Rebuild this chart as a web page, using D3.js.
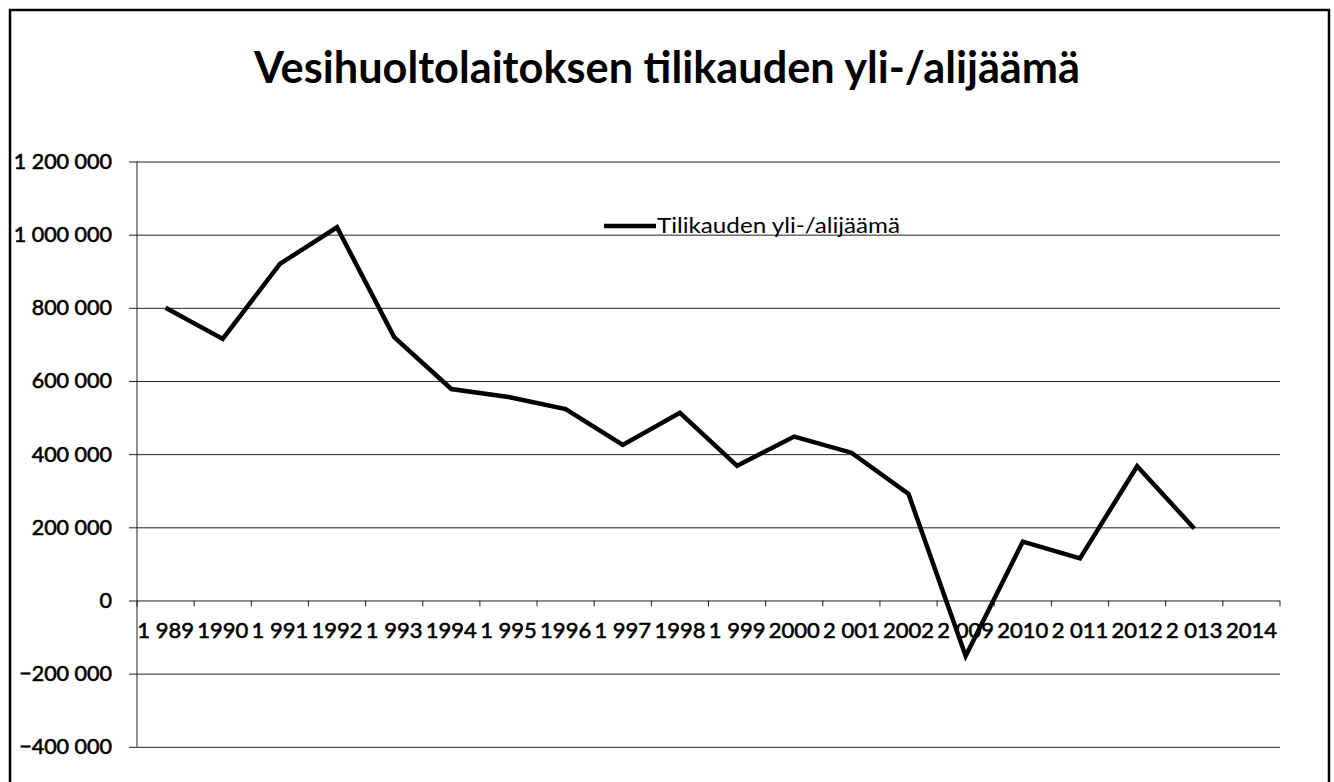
<!DOCTYPE html>
<html>
<head>
<meta charset="utf-8">
<script src="https://cdn.jsdelivr.net/npm/d3@7"></script>
<style>
	body { margin: 0; background: #fff; }
	svg { display: block; }
	text { font-family: Lato, "Open Sans", sans-serif; fill: #000; }
	.heavy { stroke: #000; stroke-width: 0.6px; }
</style>
</head>
<body>
<div id="chart"></div>
<script>
//Chart data
var chartTitle = "Vesihuoltolaitoksen tilikauden yli-/alijäämä";
var seriesName = "Tilikauden yli-/alijäämä";
var yearLabels = ["1 989", "1990", "1 991", "1992", "1 993", "1994", "1 995", "1996", "1 997", "1998",
	"1 999", "2000", "2 001", "2002", "2 009", "2010", "2 011", "2012", "2 013", "2014"];
var surplusValues = [800000, 715000, 920000, 1020000, 720000, 578000, 556000, 523000, 425000, 513000,
	368000, 448000, 404000, 291000, -152000, 161000, 115000, 367000, 197000, null];
var yTicks = [-400000, -200000, 0, 200000, 400000, 600000, 800000, 1000000, 1200000];

var width = 1334, height = 782;

//Plot area
var plot = {left: 137, right: 1280, top: 161.5, bottom: 746.8};

var svg = d3.select("#chart")
	.append("svg")
	.attr("width", width)
	.attr("height", height);

//Outer frame
svg.append("rect")
	.attr("x", 10)
	.attr("y", 10)
	.attr("width", 1319)
	.attr("height", 800)
	.attr("fill", "none")
	.attr("stroke", "#000")
	.attr("stroke-width", 2.5);

//Title
svg.append("text")
	.attr("x", 667)
	.attr("y", 83)
	.attr("text-anchor", "middle")
	.attr("textLength", 826)
	.attr("lengthAdjust", "spacingAndGlyphs")
	.style("font-size", "43px")
	.style("font-weight", "bold")
	.text(chartTitle);

//Scales
var x = d3.scaleBand()
	.domain(yearLabels)
	.range([plot.left, plot.right])
	.paddingInner(0)
	.paddingOuter(0);

var y = d3.scaleLinear()
	.domain([yTicks[0], yTicks[yTicks.length - 1]])
	.range([plot.bottom, plot.top]);

var fmt = function(v){ return d3.format(",")(v).replace(/,/g, " "); };

//Horizontal gridlines and y labels
var yAxis = svg.append("g")
	.attr("class", "yAxis")
	.attr("transform", "translate(" + plot.left + ",0)")
	.call(d3.axisLeft(y)
		.tickValues(yTicks)
		.tickSize(-(plot.right - plot.left))
		.tickPadding(25)
		.tickFormat(fmt));
yAxis.select(".domain").remove();
yAxis.selectAll(".tick line")
	.attr("x1", -8)
	.attr("stroke", "#222")
	.attr("stroke-width", 1);
yAxis.selectAll(".tick text")
	.attr("class", "heavy")
	.style("font-size", "21.5px")
	.style("font-family", "Lato, sans-serif");

//Vertical axis line
svg.append("line")
	.attr("x1", plot.left)
	.attr("x2", plot.left)
	.attr("y1", plot.top)
	.attr("y2", plot.bottom)
	.attr("stroke", "#222")
	.attr("stroke-width", 1);

//X axis on zero line, labels below
var xAxis = svg.append("g")
	.attr("class", "xAxis")
	.attr("transform", "translate(0," + y(0) + ")")
	.call(d3.axisBottom(x).tickSize(0).tickPadding(22));
xAxis.select(".domain").remove();
xAxis.selectAll(".tick text")
	.attr("class", "heavy")
	.style("font-size", "22px")
	.style("font-family", "Lato, sans-serif");

//Tick marks between categories
var boundaries = yearLabels.map(function(d){ return x(d); }).concat([plot.right]);
svg.append("g")
	.selectAll("line")
	.data(boundaries)
	.enter()
	.append("line")
	.attr("x1", function(d){ return d; })
	.attr("x2", function(d){ return d; })
	.attr("y1", y(0))
	.attr("y2", y(0) + 6)
	.attr("stroke", "#222")
	.attr("stroke-width", 1);

//Data line
var lineData = yearLabels.map(function(d, i){ return {label: d, value: surplusValues[i]}; });
var line = d3.line()
	.defined(function(d){ return d.value !== null; })
	.x(function(d){ return x(d.label) + x.bandwidth() / 2; })
	.y(function(d){ return y(d.value); });

svg.append("path")
	.datum(lineData)
	.attr("fill", "none")
	.attr("stroke", "#000")
	.attr("stroke-width", 4.5)
	.attr("stroke-linejoin", "miter")
	.attr("d", line);

//Legend
svg.append("line")
	.attr("x1", 604)
	.attr("x2", 656)
	.attr("y1", 226)
	.attr("y2", 226)
	.attr("stroke", "#000")
	.attr("stroke-width", 4.5);

svg.append("text")
	.attr("x", 657)
	.attr("y", 233)
	.attr("textLength", 243)
	.attr("lengthAdjust", "spacingAndGlyphs")
	.style("font-size", "22px")
	.text(seriesName);
</script>
</body>
</html>
